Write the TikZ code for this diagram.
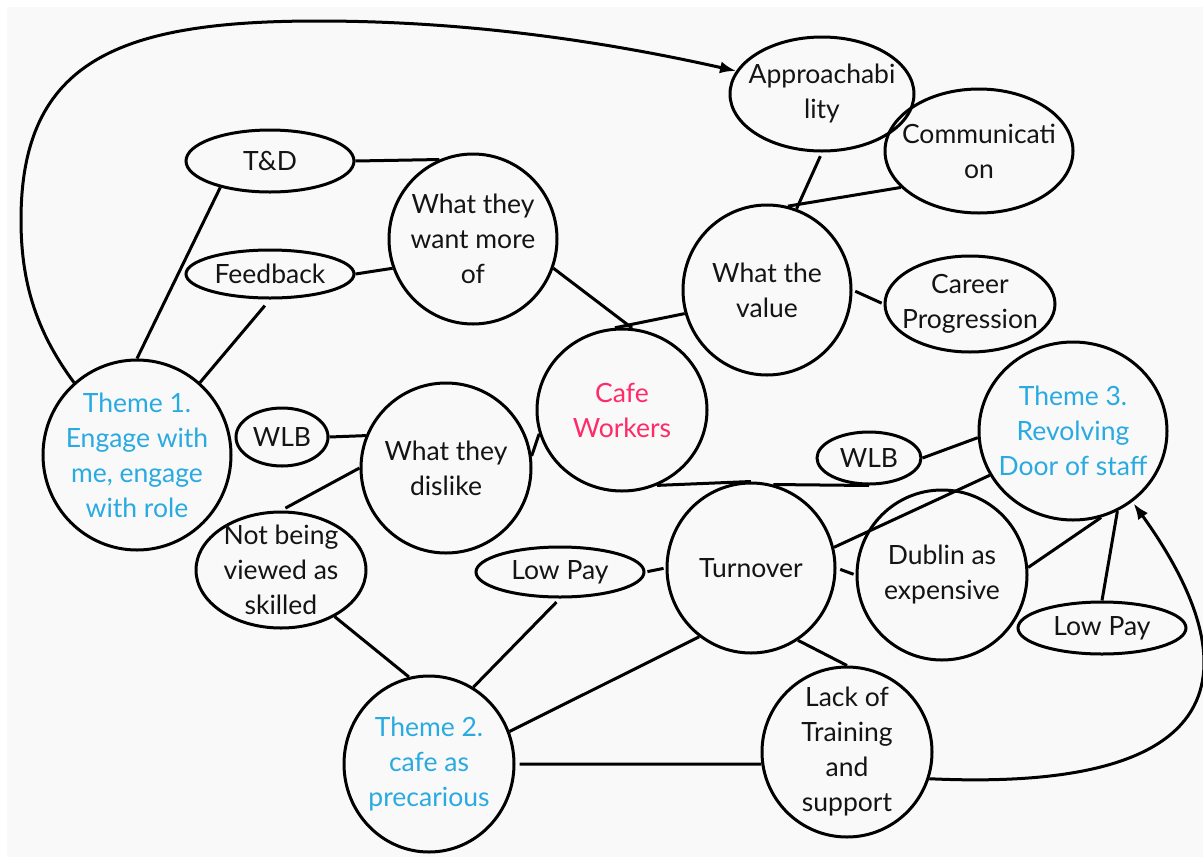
\documentclass[tikz,border=0pt]{standalone}
\usepackage{fontspec}
\setmainfont{Lato}
\usetikzlibrary{shapes.geometric,arrows.meta}
\definecolor{bg}{HTML}{F9F9F9}
\definecolor{themeblue}{HTML}{29AAE1}
\definecolor{cafepink}{HTML}{FF2A68}
\definecolor{ink}{HTML}{141414}
\newcommand\bubfont{\fontsize{26.5}{35}\selectfont}
\tikzset{
  bub/.style={draw, line width=3pt, ellipse, inner sep=0pt},
  txt/.style={align=center, font=\bubfont, text=ink, inner sep=0pt},
  con/.style={line width=3pt},
  arr/.style={line width=3pt, -{Latex[length=16pt,width=12pt]}},
}
\begin{document}
\begin{tikzpicture}[x=1pt,y=-1pt]
\useasboundingbox (0,0) rectangle (1203,860);
\fill[white] (0,0) rectangle (1203,860);
\fill[bg] (7,7) rectangle (1203,857);

% nodes
\node[bub, minimum width=184pt, minimum height=114pt, label={[txt]center:Approachabi\\lity}] (appr) at (822,94) {};
\node[bub, minimum width=188pt, minimum height=124pt, label={[txt]center:Communicati\\on}] (comm) at (979,151) {};
\node[bub, minimum width=168pt, minimum height=170pt, label={[txt]center:What the\\value}] (value) at (767,290) {};
\node[bub, minimum width=170pt, minimum height=96pt, label={[txt]center:Career\\Progression}] (career) at (970,304) {};
\node[bub, minimum width=188pt, minimum height=178pt, label={[txt,text=themeblue]center:Theme 3.\\Revolving\\Door of staff}] (t3) at (1073,431) {};
\node[bub, minimum width=168pt, minimum height=62pt, label={[txt]center:T\&D}] (td) at (270,161) {};
\node[bub, minimum width=168pt, minimum height=48pt, label={[txt]center:Feedback}] (fb) at (270,274) {};
\node[bub, minimum width=168pt, minimum height=170pt, label={[txt]center:What they\\want more\\of}] (want) at (473,239) {};
\node[bub, minimum width=170pt, minimum height=162pt, label={[txt,text=cafepink]center:Cafe\\Workers}] (cafe) at (622,410) {};
\node[bub, minimum width=188pt, minimum height=190pt, label={[txt,text=themeblue]center:Theme 1.\\Engage with\\me, engage\\with role}] (t1) at (137,455) {};
\node[bub, minimum width=92pt, minimum height=58pt, label={[txt]center:WLB}] (wlbl) at (282,437) {};
\node[bub, minimum width=170pt, minimum height=170pt, label={[txt]center:What they\\dislike}] (dislike) at (446,468) {};
\node[bub, minimum width=170pt, minimum height=116pt, label={[txt]center:Not being\\viewed as\\skilled}] (notsk) at (281,570) {};
\node[bub, minimum width=168pt, minimum height=50pt, label={[txt]center:Low Pay}] (lpl) at (560,572) {};
\node[bub, minimum width=170pt, minimum height=176pt, label={[txt,text=themeblue]center:Theme 2.\\cafe as\\precarious}] (t2) at (429,764) {};
\node[bub, minimum width=168pt, minimum height=170pt, label={[txt]center:Turnover}] (turn) at (751,568) {};
\node[bub, minimum width=170pt, minimum height=170pt, label={[txt]center:Dublin as\\expensive}] (dublin) at (942,575) {};
\node[bub, minimum width=168pt, minimum height=52pt, label={[txt]center:Low Pay}] (lpr) at (1102,628) {};
\node[bub, minimum width=170pt, minimum height=170pt, label={[txt]center:Lack of\\Training\\and\\support}] (lack) at (847,752) {};
\node[bub, minimum width=104pt, minimum height=52pt, label={[txt]center:WLB}] (wlbr) at (869,458) {};

% connectors
\draw[arr] (t1.131) .. controls (35,330) and (21,280) .. (21,220)
  .. controls (21,60) and (120,21) .. (318,21)
  .. controls (480,21) and (620,45) .. (appr.165);
\draw[con] (td.east) -- (want.113);
\draw[con] (td.208) -- (t1.90);
\draw[con] (fb.east) -- (want.200);
\draw[con, shorten <=8pt] (fb.south) -- (t1.49);
\draw[con] (want.-20) -- (cafe.83);
\draw[con] (cafe.95) -- (value.196);
\draw[con, shorten <=4pt] (appr.south) -- (value.70);
\draw[con] (comm.205) -- (value.76);
\draw[con, shorten <=3pt, shorten >=2pt] (value.east) -- (career.west);
\draw[con] (wlbl.east) -- (dislike.158);
\draw[con, shorten >=5pt] (dislike.west) -- (notsk.north);
\draw[con] (dislike.8) -- (cafe.196);
\draw[con] (cafe.-65) -- (turn.north);
\draw[con] (turn.75) -- (wlbr.south);
\draw[con] (wlbr.east) -- (t3.184);
\draw[con] (t3.208) -- (turn.14);
\draw[con, shorten <=4pt, shorten >=2pt] (turn.east) -- (dublin.west);
\draw[con] (dublin.5) -- (t3.-72);
\draw[con] (lpr.north) -- (t3.-61);
\draw[arr, shorten >=2pt] (lack.-18) .. controls (1280,795) and (1225,630) .. (t3.-50);
\draw[con, shorten <=4pt] (t2.east) -- (lack.188);
\draw[con] (t2.22) -- (turn.233);
\draw[con, shorten >=5pt] (t2.60) -- (lpl.south);
\draw[con] (t2.103) -- (notsk.-41);
\draw[con, shorten <=2pt, shorten >=2pt] (lpl.east) -- (turn.west);
\draw[con] (turn.-57) -- (lack.north);
\end{tikzpicture}
\end{document}
